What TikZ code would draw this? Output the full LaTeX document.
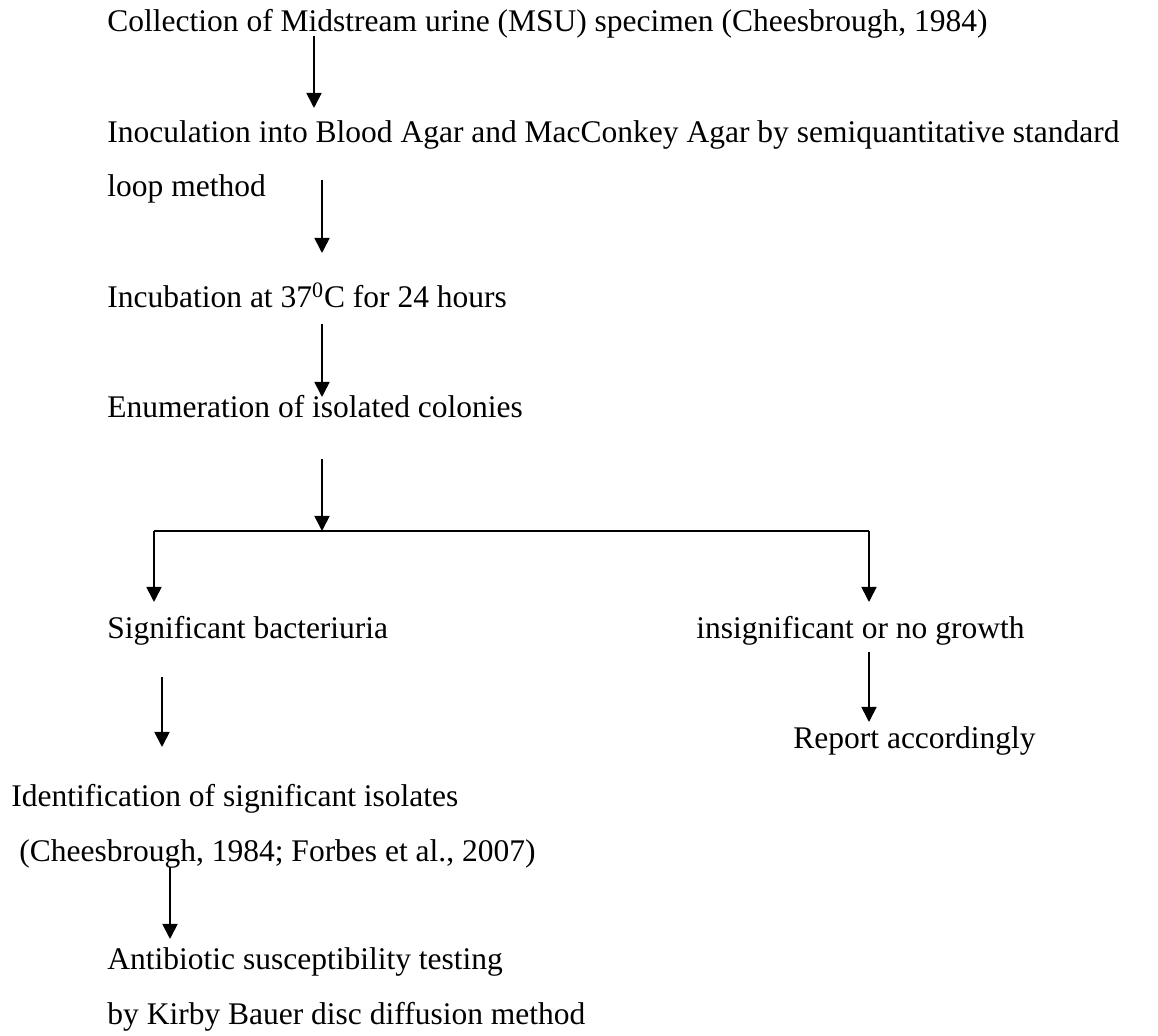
\documentclass[tikz,border=0pt]{standalone}
\usepackage{fontspec}
\setmainfont{Liberation Serif}
\usetikzlibrary{arrows.meta}
\begin{document}
\begin{tikzpicture}[x=0.5pt,y=-0.5pt,
  lbl/.style={anchor=base west,inner sep=0pt,font=\fontsize{15.75}{18}\selectfont},
  arr/.style={line width=0.85pt,-{Triangle[width=7.5pt,length=7.5pt]}},
  ln/.style={line width=0.85pt}]
\useasboundingbox[fill=white] (0,0) rectangle (1158,1036);
% texts
\node[lbl] (n1) at (107,32) {Collection of Midstream urine (MSU) specimen (Cheesbrough, 1984)};
\node[lbl] (n2a) at (107,143) {Inoculation into Blood Agar and MacConkey Agar by semiquantitative standard};
\node[lbl] (n2b) at (107,197) {loop method};
\node[lbl] (n3) at (107,308) {Incubation at 37\textsuperscript{0}C for 24 hours};
\node[lbl] (n4) at (107,418) {Enumeration of isolated colonies};
\node[lbl] (n5) at (107,639) {Significant bacteriuria};
\node[lbl] (n6) at (696,639) {insignificant or no growth};
\node[lbl] (n7) at (793,749) {Report accordingly};
\node[lbl] (n8) at (11,807) {Identification of significant isolates};
\node[lbl] (n9) at (19,862) {(Cheesbrough, 1984; Forbes et al., 2007)};
\node[lbl] (n10) at (107,970) {Antibiotic susceptibility testing};
\node[lbl] (n11) at (107,1025) {by Kirby Bauer disc diffusion method};
% connector end points
\coordinate (a1s) at (314,36);  \coordinate (a1e) at (314,108);
\coordinate (a2s) at (322,180); \coordinate (a2e) at (322,253);
\coordinate (a3s) at (322,324); \coordinate (a3e) at (322,397);
\coordinate (a4s) at (322,459); \coordinate (a4e) at (322,531);
\coordinate (hl) at (154,531);  \coordinate (hr) at (869,531);
\coordinate (ble) at (154,602); \coordinate (bre) at (869,602);
\coordinate (a5s) at (162,677); \coordinate (a5e) at (162,747);
\coordinate (a6s) at (869,652); \coordinate (a6e) at (869,722);
\coordinate (a7s) at (170,867); \coordinate (a7e) at (170,939);
% connectors
\draw[arr] (a1s) -- (a1e);
\draw[arr] (a2s) -- (a2e);
\draw[arr] (a3s) -- (a3e);
\draw[arr] (a4s) -- (a4e);
\draw[ln] (hl) -- (hr);
\draw[arr] (hl) -- (ble);
\draw[arr] (hr) -- (bre);
\draw[arr] (a5s) -- (a5e);
\draw[arr] (a6s) -- (a6e);
\draw[arr] (a7s) -- (a7e);
\end{tikzpicture}
\end{document}
